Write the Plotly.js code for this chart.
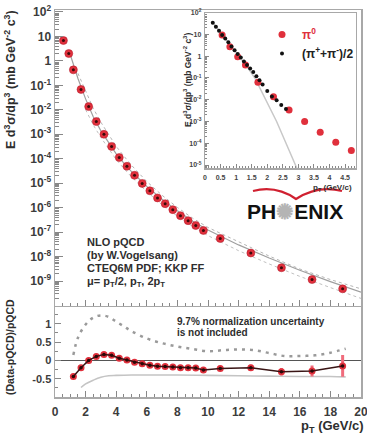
<!DOCTYPE html>
<html><head><meta charset="utf-8">
<script src="https://cdn.plot.ly/plotly-3.0.1.min.js"></script>
<style>html,body{margin:0;padding:0;background:#fff;} #chart{width:367px;height:437px;}</style>
</head><body><div id="chart"></div>
<script>
// ---- main panel: pi0 invariant cross section ----
const mainPt = [0.55, 0.9, 1.2, 1.7, 2.2, 2.7, 3.2, 3.7, 4.2, 4.7, 5.2, 5.7, 6.2, 6.7, 7.2, 7.7, 8.2, 8.7, 9.2, 9.7, 10.8, 12.8, 14.8, 16.8, 18.8];
const mainXsec = [6.8, 2.0, 0.43, 0.068, 0.0135, 3.3e-3, 1.0e-3, 3.2e-4, 1.12e-4, 4.9e-5, 2.1e-5, 9.8e-6, 4.9e-6, 2.5e-6, 1.45e-6, 8.3e-7, 4.7e-7, 2.95e-7, 1.86e-7, 1.17e-7, 5.5e-8, 1.4e-8, 3.5e-9, 1.15e-9, 4.8e-10];

// NLO pQCD curves (mu = pT, pT/2, 2pT)
const thPt = [1.0, 1.5, 2.0, 2.5, 3.0, 3.5, 4.0, 4.5, 5.0, 6.0, 7.0, 8.0, 9.0, 10.0, 12.0, 14.0, 16.0, 18.0, 20.0];
const thCentral = [1.78, 0.19, 0.028, 5.2e-3, 1.38e-3, 4.4e-4, 1.58e-4, 6.6e-5, 3.0e-5, 7.4e-6, 2.2e-6, 7.4e-7, 2.8e-7, 1.23e-7, 3.0e-8, 8.7e-9, 2.75e-9, 9.5e-10, 3.5e-10];
const thHalfMu = [null, 0.31, 0.056, 0.0115, 3.1e-3, 9.5e-4, 3.2e-4, 1.29e-4, 5.4e-5, 1.17e-5, 3.2e-6, 1.02e-6, 3.7e-7, 1.55e-7, 3.9e-8, 1.05e-8, 3.1e-9, 1.15e-9, 4.8e-10];
const thTwoMu = [null, null, 0.0102, 2.4e-3, 7.4e-4, 2.5e-4, 9.3e-5, 4.0e-5, 1.82e-5, 4.5e-6, 1.32e-6, 4.5e-7, 1.7e-7, 7.2e-8, 1.74e-8, 5.0e-9, 1.55e-9, 5.4e-10, 1.95e-10];

// ---- ratio panel ----
const ratioPt = [1.2, 1.7, 2.2, 2.7, 3.2, 3.7, 4.2, 4.7, 5.2, 5.7, 6.2, 6.7, 7.2, 7.7, 8.2, 8.7, 9.2, 9.7, 10.8, 12.8, 14.8, 16.8, 18.8];
const ratioVal = [-0.44, -0.2, 0.0, 0.11, 0.16, 0.14, 0.06, 0.01, -0.05, -0.09, -0.13, -0.16, -0.17, -0.18, -0.2, -0.2, -0.21, -0.26, -0.22, -0.2, -0.31, -0.29, -0.15];
const ratioErr = [0.04, 0.03, 0.03, 0.03, 0.04, 0.03, 0.03, 0.03, 0.03, 0.03, 0.03, 0.03, 0.03, 0.03, 0.03, 0.03, 0.04, 0.04, 0.04, 0.08, 0.1, 0.15, 0.3];
const scaleUpPt = [1.2, 1.5, 2.0, 2.5, 3.0, 3.5, 4.0, 4.5, 5.0, 6.0, 7.0, 8.0, 9.0, 10, 11, 12, 13, 14, 15, 16, 17, 18, 19];
const scaleUpRatio = [0.15, 0.62, 0.98, 1.17, 1.23, 1.19, 1.06, 0.93, 0.8, 0.6, 0.47, 0.38, 0.31, 0.25, 0.28, 0.3, 0.28, 0.2, 0.12, 0.12, 0.14, 0.21, 0.32];
const scaleLowPt = [1.7, 2.0, 2.5, 3.0, 3.5, 4.0, 5.0, 6.0, 8.0, 10.0, 12.0, 14.0, 16.0, 18.0, 19.0];
const scaleLowRatio = [-0.74, -0.64, -0.54, -0.46, -0.42, -0.41, -0.4, -0.4, -0.4, -0.41, -0.42, -0.43, -0.44, -0.44, -0.45];

// ---- inset: low pT ----
const insetPi0Pt = [0.55, 0.8, 1.05, 1.3, 1.7, 2.2, 2.7, 3.2, 3.7, 4.2, 4.7];
const insetPi0 = [9.5, 2.75, 0.95, 0.4, 0.063, 0.0138, 3.4e-3, 1.0e-3, 3.2e-4, 1.12e-4, 4.7e-5];
const insetChPt = [0.25, 0.35, 0.45, 0.55, 0.65, 0.75, 0.85, 0.95, 1.05, 1.15, 1.25, 1.35, 1.45, 1.55, 1.65, 1.75, 1.85, 2.0, 2.15, 2.3, 2.45, 2.6];
const insetCh = [34.7, 22.9, 14.8, 9.5, 6.6, 4.4, 2.8, 1.86, 1.26, 0.87, 0.575, 0.4, 0.275, 0.19, 0.12, 0.079, 0.05, 0.025, 0.0141, 9.5e-3, 5.8e-3, 3.8e-3];
const insetFitPt = [0.25, 0.6, 1.0, 1.3, 1.6, 2.3, 2.95];
const insetFit = [35.5, 7.9, 1.38, 0.42, 0.1, 1e-3, 7.1e-6];

// ---- ticks ----
const mainTickVals = [1e2, 1e1, 1, 1e-1, 1e-2, 1e-3, 1e-4, 1e-5, 1e-6, 1e-7, 1e-8, 1e-9];
const mainTickText = ['10<sup>2</sup>', '10', '1', '10<sup>-1</sup>', '10<sup>-2</sup>', '10<sup>-3</sup>', '10<sup>-4</sup>', '10<sup>-5</sup>', '10<sup>-6</sup>', '10<sup>-7</sup>', '10<sup>-8</sup>', '10<sup>-9</sup>'];
const insetTickVals = [1e2, 1e1, 1, 1e-1, 1e-2, 1e-3, 1e-4, 1e-5];
const insetTickText = ['10<sup>2</sup>', '10', '1', '10<sup>-1</sup>', '10<sup>-2</sup>', '10<sup>-3</sup>', '10<sup>-4</sup>', '10<sup>-5</sup>'];
const ratioTickVals = [-0.5, 0, 0.5, 1];
const ratioTickText = ['-0.5', '0', '0.5', '1'];
const xTickVals = [0, 2, 4, 6, 8, 10, 12, 14, 16, 18, 20];
const insetXTickVals = [0, 0.5, 1, 1.5, 2, 2.5, 3, 3.5, 4, 4.5];
const insetXTickText = ['0', '0.5', '1', '1.5', '2', '2.5', '3', '3.5', '4', '4.5'];

const nloLines = ['NLO pQCD', '(by W.Vogelsang)', 'CTEQ6M PDF; KKP FF', 'μ= p<sub>T</sub>/2, p<sub>T</sub>, 2p<sub>T</sub>'];
const normLines = ['9.7% normalization uncertainty', 'is not included'];

function minorLog(lo, hi) {
  const v = [];
  for (let k = lo; k <= hi; k++) for (let m = 2; m <= 9; m++) v.push(m * Math.pow(10, k));
  return v;
}

const FONT = 'Liberation Sans, Arial, sans-serif';
const RED = '#e0303c';
const traces = [];

// top panel
traces.push({x: thPt, y: thHalfMu, xaxis: 'x2', yaxis: 'y2', mode: 'lines', line: {color: '#b5b5b5', width: 1, dash: '3px,3px'}, showlegend: false, hoverinfo: 'skip'});
traces.push({x: thPt, y: thTwoMu, xaxis: 'x2', yaxis: 'y2', mode: 'lines', line: {color: '#c0c0c0', width: 1, dash: '3px,3px'}, showlegend: false, hoverinfo: 'skip'});
traces.push({x: thPt, y: thCentral, xaxis: 'x2', yaxis: 'y2', mode: 'lines', line: {color: '#a0a0a0', width: 1.2}, showlegend: false, hoverinfo: 'skip'});
traces.push({x: mainPt, y: mainXsec, xaxis: 'x2', yaxis: 'y2', mode: 'markers', marker: {color: RED, size: 8, line: {color: '#b01828', width: 0.5}}, showlegend: false});
traces.push({x: mainPt, y: mainXsec, xaxis: 'x2', yaxis: 'y2', mode: 'markers', marker: {color: '#3a0a0a', size: 3}, showlegend: false, hoverinfo: 'skip'});

// ratio panel
traces.push({x: scaleUpPt, y: scaleUpRatio, xaxis: 'x', yaxis: 'y', mode: 'lines', line: {color: '#9a9a9a', width: 2.5, dash: '3px,5px', shape: 'spline'}, showlegend: false, hoverinfo: 'skip'});
traces.push({x: scaleLowPt, y: scaleLowRatio, xaxis: 'x', yaxis: 'y', mode: 'lines', line: {color: '#c4c4c4', width: 1.6, shape: 'spline'}, showlegend: false, hoverinfo: 'skip'});
traces.push({x: ratioPt, y: ratioVal, xaxis: 'x', yaxis: 'y', mode: 'markers',
  error_y: {type: 'data', array: ratioErr, color: '#f06c7c', thickness: 3, width: 0},
  marker: {color: RED, size: 7}, showlegend: false});
traces.push({x: ratioPt, y: ratioVal, xaxis: 'x', yaxis: 'y', mode: 'lines+markers', line: {color: '#3a1515', width: 1.5}, marker: {color: '#2a0808', size: 3.5}, showlegend: false, hoverinfo: 'skip'});

// inset
traces.push({x: insetFitPt, y: insetFit, xaxis: 'x3', yaxis: 'y3', mode: 'lines', line: {color: '#c8c8c8', width: 1.5}, showlegend: false, hoverinfo: 'skip'});
traces.push({x: insetPi0Pt, y: insetPi0, xaxis: 'x3', yaxis: 'y3', mode: 'markers', marker: {color: RED, size: 7}, name: '<span style="color:#e0303c">π<sup>0</sup></span>', showlegend: true});
traces.push({x: insetChPt, y: insetCh, xaxis: 'x3', yaxis: 'y3', mode: 'markers', marker: {color: '#111', size: 4}, name: '(π<sup>+</sup>+π<sup>-</sup>)/2', showlegend: true});

const axLine = '#a8a8a8';
const tickCol = '#888';
const tickFont = {family: FONT, size: 12, color: '#3c3c3c', weight: 'bold'};
const smallFont = {family: FONT, size: 7, color: '#444', weight: 'bold'};

const px = p => (p - 55) / 306;
const py = p => (397 - p) / 387;

function note(xp, yp, text, size, extra) {
  return Object.assign({xref: 'paper', yref: 'paper', x: px(xp), y: py(yp), xanchor: 'center', yanchor: 'middle', text: text, showarrow: false,
    font: {family: FONT, size: size, color: '#2e2e2e', weight: 'bold'}}, extra || {});
}

const annotations = [];
annotations.push(note(10, 80, 'E d<sup>3</sup>σ/dp<sup>3</sup> (mb GeV<sup>-2</sup> c<sup>3</sup>)', 12.5, {textangle: -90}));
annotations.push(note(10, 347, '(Data-pQCD)/pQCD', 10.5, {textangle: -90}));
annotations.push(note(366, 437, 'p<sub>T</sub> (GeV/c)', 13, {xanchor: 'right', yanchor: 'bottom'}));
const nloTop = [234, 247, 260, 273];
nloLines.forEach((t, i) => annotations.push(note(85, nloTop[i], t, 11, {xanchor: 'left', yanchor: 'top', align: 'left'})));
const normY = [321.5, 332];
normLines.forEach((t, i) => annotations.push(note(175, normY[i], t, 10, {xanchor: 'left'})));
// inset titles
annotations.push(note(188, 80, 'E d<sup>3</sup>σ/dp<sup>3</sup> (mb GeV<sup>-2</sup> c<sup>3</sup>)', 8.5, {textangle: -90}));
annotations.push(note(354, 188, 'p<sub>T</sub> (GeV/c)', 8, {xanchor: 'right'}));
// PHENIX logo
annotations.push(note(295, 211, 'PH<span style="color:#b4b4b4">✺</span>ENIX', 21, {font: {family: FONT, size: 21, color: '#111', weight: 'bold'}}));

const shapes = [
  {type: 'path', xref: 'paper', yref: 'paper',
   path: `M${px(253)},${py(191)} Q${px(276)},${py(185)} ${px(296)},${py(199)} Q${px(318)},${py(185)} ${px(342)},${py(191)}`,
   line: {color: '#d02030', width: 2.2}}
];

const layout = {
  width: 367, height: 437,
  margin: {l: 55, r: 6, t: 10, b: 40},
  paper_bgcolor: '#fff', plot_bgcolor: '#fff',
  font: {family: FONT},
  showlegend: true,
  legend: {x: px(262), y: py(20), xanchor: 'left', yanchor: 'top', bgcolor: 'rgba(0,0,0,0)', font: {family: FONT, size: 12, color: '#222', weight: 'bold'}, tracegroupgap: 0},
  xaxis: {domain: [0, 1], range: [0, 20], anchor: 'y', tickmode: 'array', tickvals: xTickVals, ticks: 'inside', ticklen: 6, tickcolor: tickCol,
    minor: {dtick: 0.5, ticks: 'inside', ticklen: 3, tickcolor: tickCol},
    showline: true, linecolor: axLine, linewidth: 1.5, mirror: false, showgrid: false, zeroline: false, tickfont: tickFont, ticklabelstandoff: 3, ticklabeloverflow: 'allow'},
  yaxis: {domain: [0, 0.2364], range: [-1, 1.5], anchor: 'x', tickmode: 'array', tickvals: ratioTickVals, ticktext: ratioTickText, ticks: 'inside', ticklen: 6, tickcolor: tickCol,
    minor: {dtick: 0.25, ticks: 'inside', ticklen: 3, tickcolor: tickCol},
    showline: true, linecolor: axLine, linewidth: 1.5, mirror: true, showgrid: false, zeroline: true, zerolinecolor: '#555', zerolinewidth: 1,
    tickfont: {family: FONT, size: 11, color: '#3c3c3c', weight: 'bold'}},
  xaxis2: {domain: [0, 1], range: [0, 20], anchor: 'y2', matches: 'x', showticklabels: false, tickmode: 'array', tickvals: xTickVals, ticks: 'inside', ticklen: 6, tickcolor: tickCol,
    minor: {dtick: 0.5, ticks: 'inside', ticklen: 3, tickcolor: tickCol},
    showline: true, linecolor: axLine, linewidth: 1.5, mirror: true, showgrid: false, zeroline: false},
  yaxis2: {domain: [0.2364, 1], type: 'log', range: [-10, 2.08], anchor: 'x2', tickmode: 'array', tickvals: mainTickVals, ticktext: mainTickText, ticks: 'inside', ticklen: 8, tickcolor: tickCol,
    minor: {tickmode: 'array', tickvals: minorLog(-10, 1), ticks: 'inside', ticklen: 4, tickcolor: tickCol},
    showline: true, linecolor: axLine, linewidth: 1.5, mirror: true, showgrid: false, zeroline: false, tickfont: tickFont},
  xaxis3: {domain: [px(205), px(356)], range: [0, 4.85], anchor: 'y3', tickmode: 'array', tickvals: insetXTickVals, ticktext: insetXTickText, ticks: 'inside', ticklen: 4, tickcolor: tickCol,
    minor: {dtick: 0.1, ticks: 'inside', ticklen: 2, tickcolor: tickCol},
    showline: true, linecolor: axLine, linewidth: 1.2, mirror: true, showgrid: false, zeroline: false, tickfont: smallFont, ticklabelstandoff: 2},
  yaxis3: {domain: [py(168.3), py(12.7)], type: 'log', range: [-5.15, 2.0], anchor: 'x3', tickmode: 'array', tickvals: insetTickVals, ticktext: insetTickText, ticks: 'inside', ticklen: 4, tickcolor: tickCol,
    minor: {tickmode: 'array', tickvals: minorLog(-6, 1), ticks: 'inside', ticklen: 2, tickcolor: tickCol},
    showline: true, linecolor: axLine, linewidth: 1.2, mirror: true, showgrid: false, zeroline: false, tickfont: smallFont, ticklabelstandoff: 1},
  annotations: annotations,
  shapes: shapes
};

Plotly.newPlot('chart', traces, layout, {displayModeBar: false, staticPlot: true});
</script>
</body></html>
